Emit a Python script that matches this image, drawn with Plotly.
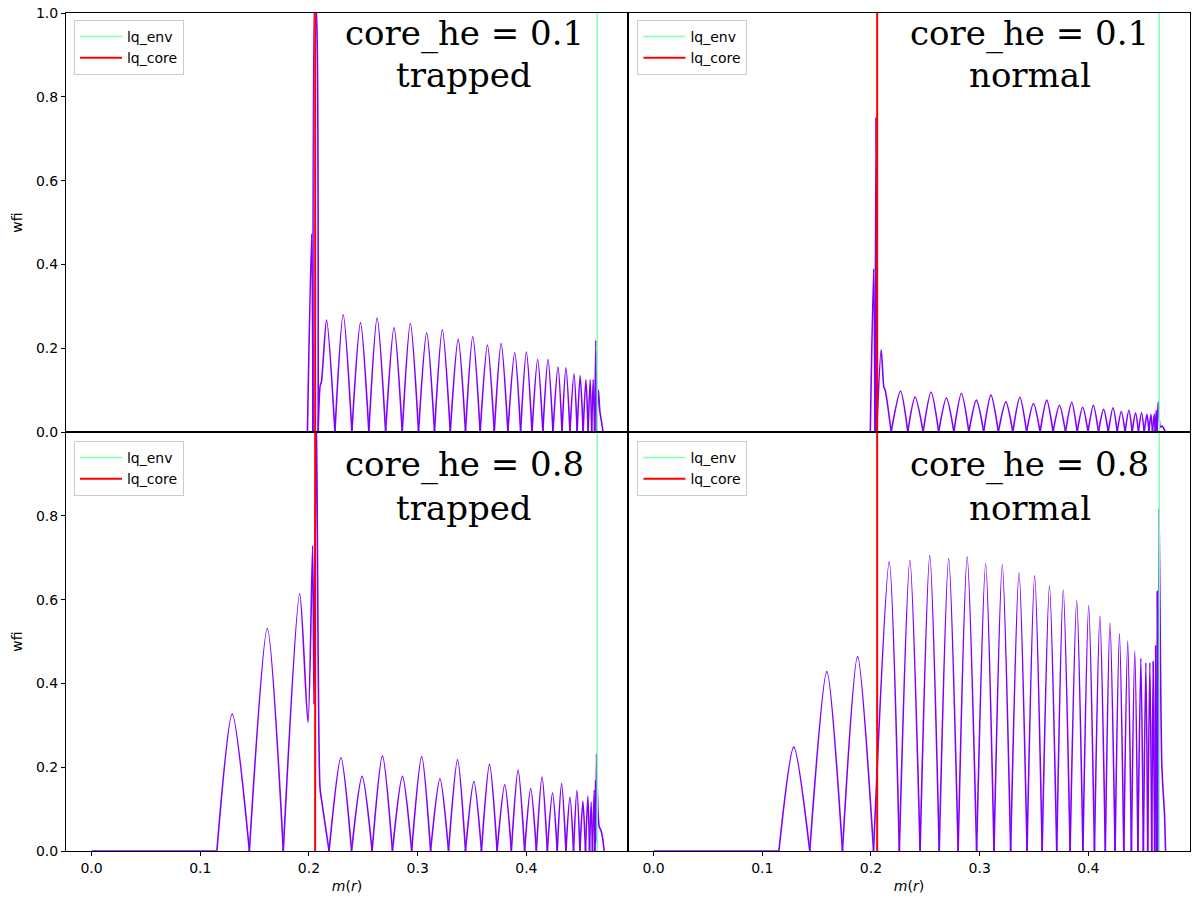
import plotly.graph_objects as go

# ---------------- data ----------------
lq_env = 0.4652
lq_core = 0.2057

# (m(r), wfi) points: top-left  core_he = 0.1 trapped
tl_xy = [(0.0, 0), (0.1986, 0), (0.2025, 0.473), (0.2037, 0.0), (0.2052, 1.05), (0.2072, 0.975),
         (0.2085, 0.0), (0.2103, 0.11), (0.2115, 0.12), (0.2162, 0.267), (0.2239, 0), (0.2315, 0.280),
         (0.2395, 0), (0.2474, 0.261), (0.2551, 0), (0.2627, 0.272), (0.2705, 0), (0.2783, 0.249),
         (0.2858, 0), (0.2933, 0.259), (0.3008, 0), (0.3083, 0.237), (0.3155, 0), (0.3227, 0.244),
         (0.3300, 0), (0.3373, 0.221), (0.3440, 0), (0.3507, 0.228), (0.3575, 0), (0.3642, 0.207),
         (0.3705, 0), (0.3768, 0.211), (0.3830, 0), (0.3893, 0.189), (0.3947, 0), (0.4000, 0.191),
         (0.4052, 0), (0.4104, 0.173), (0.4152, 0), (0.4199, 0.173), (0.4245, 0), (0.4291, 0.155),
         (0.4328, 0), (0.4364, 0.153), (0.4401, 0), (0.4438, 0.139), (0.4467, 0), (0.4495, 0.135),
         (0.4522, 0), (0.4548, 0.125), (0.4568, 0), (0.4587, 0.125), (0.4601, 0), (0.4615, 0.125),
         (0.4628, 0), (0.4639, 0.219), (0.4646, 0.0), (0.4663, 0.10), (0.4676, 0.05), (0.4688, 0.03),
         (0.4706, 0)]

# top-right  core_he = 0.1 normal
tr_xy = [(0.0, 0), (0.1994, 0), (0.2025, 0.39), (0.2037, 0.0), (0.2046, 0.75), (0.2053, 0.0),
         (0.2094, 0.196), (0.2119, 0.107), (0.2131, 0.10), (0.2186, 0), (0.2272, 0.098), (0.2339, 0),
         (0.2406, 0.0835), (0.2480, 0), (0.2553, 0.0955), (0.2623, 0), (0.2694, 0.081), (0.2763, 0),
         (0.2832, 0.092), (0.2901, 0), (0.2970, 0.076), (0.3037, 0), (0.3104, 0.088), (0.3172, 0),
         (0.3241, 0.072), (0.3305, 0), (0.3370, 0.083), (0.3432, 0), (0.3495, 0.068), (0.3556, 0),
         (0.3617, 0.076), (0.3675, 0), (0.3734, 0.064), (0.3790, 0), (0.3847, 0.071), (0.3897, 0),
         (0.3948, 0.059), (0.3997, 0), (0.4046, 0.064), (0.4093, 0), (0.4140, 0.054), (0.4183, 0),
         (0.4227, 0.058), (0.4265, 0), (0.4303, 0.049), (0.4338, 0), (0.4373, 0.052), (0.4403, 0),
         (0.4434, 0.045), (0.4461, 0), (0.4489, 0.046), (0.4514, 0), (0.4539, 0.042), (0.4557, 0),
         (0.4575, 0.042), (0.4590, 0), (0.4606, 0.043), (0.4615, 0), (0.4624, 0.052), (0.4633, 0),
         (0.4642, 0.072), (0.4663, 0.012), (0.4679, 0.014), (0.4709, 0)]

# bottom-left  core_he = 0.8 trapped
bl_xy = [(0.0, 0), (0.1153, 0), (0.1294, 0.327), (0.1452, 0), (0.1617, 0.531), (0.1764, 0),
         (0.1915, 0.614), (0.1991, 0.307), (0.2034, 0.729), (0.2046, 0.35), (0.2068, 1.05),
         (0.2101, 0.153), (0.2117, 0.12), (0.2185, 0), (0.2294, 0.2225), (0.2392, 0), (0.2489, 0.178),
         (0.2581, 0), (0.2676, 0.227), (0.2768, 0), (0.2860, 0.178), (0.2945, 0), (0.3037, 0.2257),
         (0.3119, 0), (0.3205, 0.1726), (0.3284, 0), (0.3367, 0.2178), (0.3440, 0), (0.3517, 0.166),
         (0.3587, 0), (0.3661, 0.2067), (0.3731, 0), (0.3801, 0.158), (0.3862, 0), (0.3924, 0.1924),
         (0.3984, 0), (0.4040, 0.149), (0.4092, 0), (0.4144, 0.1765), (0.4193, 0), (0.4241, 0.139),
         (0.4284, 0), (0.4324, 0.1607), (0.4364, 0), (0.4401, 0.129), (0.4434, 0), (0.4465, 0.145),
         (0.4493, 0), (0.4520, 0.119), (0.4544, 0), (0.4566, 0.131), (0.4581, 0), (0.4596, 0.117),
         (0.4608, 0), (0.4624, 0.146), (0.4630, 0), (0.4636, 0.169), (0.4640, 0.02), (0.4645, 0.232),
         (0.4653, 0.14), (0.4670, 0.058), (0.4685, 0.05), (0.4700, 0.033), (0.4716, 0)]

# bottom-right  core_he = 0.8 normal
br_xy = [(0.0, 0), (0.1153, 0), (0.1290, 0.248), (0.1437, 0), (0.1594, 0.428), (0.1738, 0),
         (0.1877, 0.464), (0.2024, 0), (0.2168, 0.690), (0.2261, 0), (0.2358, 0.694), (0.2452, 0),
         (0.2541, 0.705), (0.2628, 0), (0.2715, 0.698), (0.2802, 0), (0.2885, 0.702), (0.2972, 0),
         (0.3055, 0.685), (0.3132, 0), (0.3208, 0.683), (0.3285, 0), (0.3362, 0.664), (0.3436, 0),
         (0.3506, 0.657), (0.3575, 0), (0.3642, 0.633), (0.3709, 0), (0.3769, 0.623), (0.3832, 0),
         (0.3893, 0.598), (0.3950, 0), (0.4003, 0.586), (0.4056, 0), (0.4106, 0.560), (0.4156, 0),
         (0.4199, 0.544), (0.4246, 0), (0.4286, 0.519), (0.4326, 0), (0.4362, 0.501), (0.4396, 0),
         (0.4427, 0.477), (0.4456, 0), (0.4483, 0.460), (0.4506, 0), (0.4529, 0.450), (0.4546, 0),
         (0.4566, 0.450), (0.4583, 0), (0.4596, 0.452), (0.4610, 0), (0.4619, 0.490), (0.4628, 0),
         (0.4633, 0.620), (0.4641, 0.0), (0.4650, 0.816), (0.4664, 0.43), (0.4674, 0.22),
         (0.4684, 0.16), (0.4700, 0.09), (0.4710, 0)]

panel_labels = [("core_he = 0.1", "trapped"), ("core_he = 0.1", "normal"),
                ("core_he = 0.8", "trapped"), ("core_he = 0.8", "normal")]
x_ticks = [0.0, 0.1, 0.2, 0.3, 0.4]
y_ticks_top = [0.0, 0.2, 0.4, 0.6, 0.8, 1.0]
y_ticks_bottom = [0.0, 0.2, 0.4, 0.6, 0.8]

# ---------------- helpers ----------------
def split_at_zeros(xy):
    """Break the curve at every zero so each lobe is smoothed on its own."""
    xs, ys = [], []
    seg = [xy[0]]
    for pt in xy[1:]:
        seg.append(pt)
        if pt[1] == 0:
            xs += [p[0] for p in seg] + [None]
            ys += [p[1] for p in seg] + [None]
            seg = [pt]
    if len(seg) > 1:
        xs += [p[0] for p in seg]
        ys += [p[1] for p in seg]
    return xs, ys


# ---------------- figure ----------------
PURPLE = "#8000ff"
GREEN = "#80ffb4"
RED = "#ff0000"
SANS = "DejaVu Sans"
SERIF = "DejaVu Serif"

fig = go.Figure()
panels = [
    dict(xy=tl_xy, ax="", xd=[0, 0.5], yd=[0.5, 1.0], lg="legend", lx=0.0071, ly=0.9917, tx=0.343),
    dict(xy=tr_xy, ax="2", xd=[0.5, 1.0], yd=[0.5, 1.0], lg="legend2", lx=0.5084, ly=0.9917, tx=0.346),
    dict(xy=bl_xy, ax="3", xd=[0, 0.5], yd=[0.0, 0.5], lg="legend3", lx=0.0071, ly=0.4893, tx=0.343),
    dict(xy=br_xy, ax="4", xd=[0.5, 1.0], yd=[0.0, 0.5], lg="legend4", lx=0.5084, ly=0.4893, tx=0.346),
]

for i, p in enumerate(panels):
    xs, ys = split_at_zeros(p["xy"])
    xa = "x" + p["ax"]
    ya = "y" + p["ax"]
    fig.add_trace(go.Scatter(x=xs, y=ys, mode="lines", xaxis=xa, yaxis=ya, connectgaps=False,
                             line=dict(color=PURPLE, width=1.6, shape="spline", smoothing=0.75,
                                       simplify=False),
                             showlegend=False, hoverinfo="skip"))
    fig.add_trace(go.Scatter(x=[lq_env, lq_env], y=[0, 1], mode="lines", xaxis=xa, yaxis=ya,
                             line=dict(color=GREEN, width=1.5), name="lq_env", legend=p["lg"]))
    fig.add_trace(go.Scatter(x=[lq_core, lq_core], y=[0, 1], mode="lines", xaxis=xa, yaxis=ya,
                             line=dict(color=RED, width=2), name="lq_core", legend=p["lg"]))

    bottom = i >= 2
    left = i % 2 == 0
    axis_common = dict(showline=True, mirror=True, linecolor="black", linewidth=1,
                       ticklen=4, tickwidth=1, tickcolor="black",
                       showgrid=False, zeroline=False,
                       tickfont=dict(family=SANS, size=14, color="black"))
    xkey = "xaxis" + p["ax"]
    ykey = "yaxis" + p["ax"]
    fig.layout[xkey] = dict(domain=p["xd"], anchor=ya, range=[-0.0235, 0.4935],
                            tickvals=x_ticks, ticktext=[f"{v:.1f}" for v in x_ticks],
                            showticklabels=bottom, ticks="outside" if bottom else "",
                            title=dict(text="<i>m</i>(<i>r</i>)" if bottom else "",
                                       font=dict(family=SANS, size=14, color="black"), standoff=6),
                            **axis_common)
    yt = y_ticks_bottom if bottom else y_ticks_top
    fig.layout[ykey] = dict(domain=p["yd"], anchor=xa, range=[0, 1],
                            tickvals=yt, ticktext=[f"{v:.1f}" for v in yt],
                            showticklabels=left, ticks="outside" if left else "",
                            title=dict(text="wfi" if left else "",
                                       font=dict(family=SANS, size=14, color="black"), standoff=10),
                            **axis_common)
    fig.layout[p["lg"]] = dict(x=p["lx"], y=p["ly"], xanchor="left", yanchor="top",
                               bgcolor="rgba(255,255,255,0.85)", bordercolor="#cccccc", borderwidth=1,
                               font=dict(family=SANS, size=14, color="black"),
                               tracegroupgap=0, itemwidth=42)

    l1, l2 = panel_labels[i]
    y1, y2 = (0.9216, 0.8195) if bottom else (0.952, 0.852)
    for txt, yy in ((l1, y1), (l2, y2)):
        fig.add_annotation(text=txt, x=p["tx"], xref=xa, y=yy, yref=ya + " domain",
                           showarrow=False, xanchor="center", yanchor="middle",
                           font=dict(family=SERIF, size=34, color="black"))

# thicker dividing lines between the panels
fig.add_shape(type="line", xref="paper", yref="paper", x0=0.5, x1=0.5, y0=0, y1=1,
              line=dict(color="black", width=2))
fig.add_shape(type="line", xref="paper", yref="paper", x0=0, x1=1, y0=0.5, y1=0.5,
              line=dict(color="black", width=2))

fig.update_layout(width=1196, height=901, margin=dict(l=66, r=5, t=11, b=50),
                  paper_bgcolor="white", plot_bgcolor="white",
                  font=dict(family=SANS, size=14, color="black"))

fig.write_html("out.html")
